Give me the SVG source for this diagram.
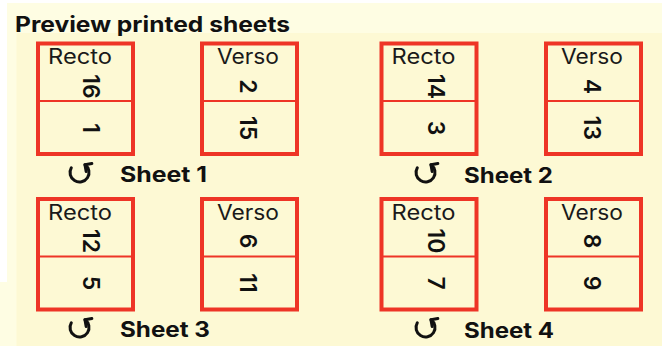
<svg xmlns="http://www.w3.org/2000/svg" width="662" height="346" viewBox="0 0 662 346">
<style>
.page{fill:none;stroke:#EE3526;stroke-width:4}
.fold{stroke:#EE3526;stroke-width:2}
.lbl{font-family:Inter,"Liberation Sans",sans-serif;font-size:21px;fill:#1a1a1a;text-anchor:middle}
.num{font-family:Inter,"Liberation Sans",sans-serif;font-size:23px;font-weight:600;fill:#111;text-anchor:middle}
.title{font-family:Inter,"Liberation Sans",sans-serif;font-size:21px;font-weight:700;fill:#111}
.ico{fill:none;stroke:#111;stroke-width:3;stroke-linecap:round;stroke-linejoin:round}
</style>
<defs>
<g id="rot">
<path class="ico" d="M-8.2,-4.75 A9.5,9.5 0 1 0 5.45,-7.78"/>
<path class="ico" d="M12.35,-9 L5.45,-7.78 L6.66,-0.9"/>
</g>
</defs>
<rect width="662" height="346" fill="#FEFDE3"/>
<rect x="0" y="0" width="662" height="3" fill="#FFFFFF"/>
<rect x="0" y="0" width="7" height="282" fill="#FFFFFF"/>
<rect x="16.5" y="33" width="646" height="313" fill="#FDF9D4"/>
<text class="title" x="15" y="31.5" textLength="275" lengthAdjust="spacingAndGlyphs">Preview printed sheets</text>

<g id="sheet1">
<rect class="page" x="38" y="43.5" width="95" height="110.5"/>
<line class="fold" x1="38" y1="101" x2="133" y2="101"/>
<text class="lbl" x="80" y="64" textLength="64" lengthAdjust="spacingAndGlyphs">Recto</text>
<text class="num" transform="translate(83.3,86.5) rotate(90)">16</text>
<text class="num" transform="translate(83.3,128) rotate(90)">1</text>
<rect class="page" x="202" y="43.5" width="95" height="110.5"/>
<line class="fold" x1="202" y1="101" x2="297" y2="101"/>
<text class="lbl" x="248" y="64" textLength="62" lengthAdjust="spacingAndGlyphs">Verso</text>
<text class="num" transform="translate(240.2,86.5) rotate(90)">2</text>
<text class="num" transform="translate(240.2,128) rotate(90)">15</text>
<use href="#rot" x="79.5" y="172.5"/>
<text class="title" x="120" y="182" textLength="87" lengthAdjust="spacingAndGlyphs">Sheet 1</text>
</g>

<g id="sheet2">
<rect class="page" x="381.5" y="43.5" width="95" height="110.5"/>
<line class="fold" x1="381.5" y1="101" x2="476.5" y2="101"/>
<text class="lbl" x="423.5" y="64" textLength="64" lengthAdjust="spacingAndGlyphs">Recto</text>
<text class="num" transform="translate(427.5,86.5) rotate(90)">14</text>
<text class="num" transform="translate(427.5,128) rotate(90)">3</text>
<rect class="page" x="546" y="43.5" width="95" height="110.5"/>
<line class="fold" x1="546" y1="101" x2="641" y2="101"/>
<text class="lbl" x="592" y="64" textLength="62" lengthAdjust="spacingAndGlyphs">Verso</text>
<text class="num" transform="translate(583.7,86.5) rotate(90)">4</text>
<text class="num" transform="translate(583.7,128) rotate(90)">13</text>
<use href="#rot" x="425.5" y="172.5"/>
<text class="title" x="464" y="182.5" textLength="89" lengthAdjust="spacingAndGlyphs">Sheet 2</text>
</g>

<g id="sheet3">
<rect class="page" x="38" y="199" width="95" height="110.5"/>
<line class="fold" x1="38" y1="256.5" x2="133" y2="256.5"/>
<text class="lbl" x="80" y="219.5" textLength="64" lengthAdjust="spacingAndGlyphs">Recto</text>
<text class="num" transform="translate(83.3,241) rotate(90)">12</text>
<text class="num" transform="translate(83.3,283) rotate(90)">5</text>
<rect class="page" x="202" y="199" width="95" height="110.5"/>
<line class="fold" x1="202" y1="256.5" x2="297" y2="256.5"/>
<text class="lbl" x="248" y="219.5" textLength="62" lengthAdjust="spacingAndGlyphs">Verso</text>
<text class="num" transform="translate(240.2,241) rotate(90)">6</text>
<text class="num" transform="translate(240.2,283) rotate(90)">11</text>
<use href="#rot" x="79.5" y="327.5"/>
<text class="title" x="120" y="337" textLength="90" lengthAdjust="spacingAndGlyphs">Sheet 3</text>
</g>

<g id="sheet4">
<rect class="page" x="381.5" y="199" width="95" height="110.5"/>
<line class="fold" x1="381.5" y1="256.5" x2="476.5" y2="256.5"/>
<text class="lbl" x="423.5" y="219.5" textLength="64" lengthAdjust="spacingAndGlyphs">Recto</text>
<text class="num" transform="translate(427.5,241) rotate(90)">10</text>
<text class="num" transform="translate(427.5,283) rotate(90)">7</text>
<rect class="page" x="546" y="199" width="95" height="110.5"/>
<line class="fold" x1="546" y1="256.5" x2="641" y2="256.5"/>
<text class="lbl" x="592" y="219.5" textLength="62" lengthAdjust="spacingAndGlyphs">Verso</text>
<text class="num" transform="translate(583.7,241) rotate(90)">8</text>
<text class="num" transform="translate(583.7,283) rotate(90)">9</text>
<use href="#rot" x="425.5" y="327.5"/>
<text class="title" x="464" y="337.5" textLength="90" lengthAdjust="spacingAndGlyphs">Sheet 4</text>
</g>
</svg>
